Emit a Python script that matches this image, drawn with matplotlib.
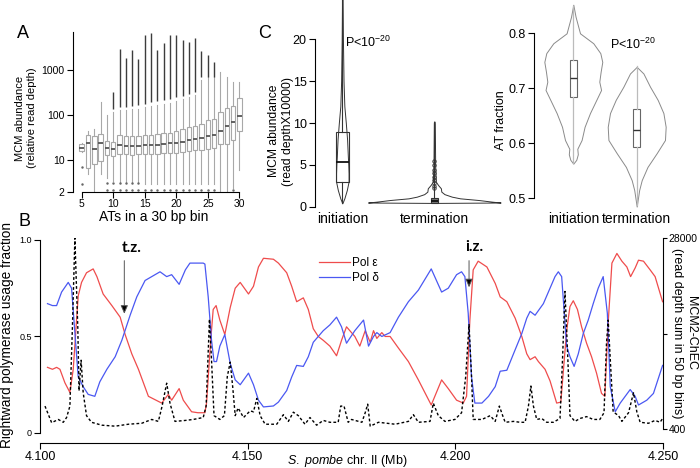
import matplotlib
matplotlib.use("Agg")
import matplotlib.pyplot as plt
from matplotlib.lines import Line2D

plt.rcParams['font.family'] = ['Liberation Sans', 'DejaVu Sans']
plt.rcParams['mathtext.fontset'] = 'custom'
plt.rcParams['mathtext.rm'] = 'Liberation Sans'
plt.rcParams['mathtext.it'] = 'Liberation Sans:italic'
plt.rcParams['axes.linewidth'] = 0.8
plt.rcParams['xtick.major.width'] = 0.8
plt.rcParams['ytick.major.width'] = 0.8

# ---------------- panel A: MCM abundance per AT count (box stats)
at_counts = list(range(5, 31))
box_q1  = [16.1, 6.8, 8.1, 9.5, 13, 12.5, 13.5, 13.5, 13, 13.5, 13.5, 13.5, 13.5,
           14.3, 14.7, 14.7, 15.3, 16, 17, 17, 17.5, 19, 22.7, 22.7, 28.4, 45]
box_med = [19, 24, 17.5, 24, 19, 17.5, 22, 21, 21, 21, 21.5, 22, 22,
           23, 23.5, 24.5, 26, 28, 30, 31.6, 35, 37, 45, 56, 72, 98]
box_q3  = [22.7, 36, 35, 38, 27, 26, 36, 35, 34, 35, 36, 37, 38,
           40, 41, 45, 49, 54, 58, 64, 78, 83, 116, 143, 158, 240]
whis_lo = [15, 5, 2.0, 5, 4, 3.5, 3.2, 3.2, 3.2, 3.2, 3, 3, 3,
           3, 3, 3, 3, 3, 3, 3, 3, 3, 2, 2, 2.4, 6]
whis_hi = [24, 45, 49, 200, 100, 115, 130, 130, 135, 140, 150, 160, 170,
           180, 190, 210, 230, 250, 280, 600, 700, 700, 915, 710, 550, 550]
# dense columns of high outliers
dense_at = [10, 11, 12, 13, 14, 15, 16, 17, 18, 19, 20, 21, 22, 23, 24, 25, 26]
dense_lo = [140, 150, 150, 160, 170, 180, 200, 210, 220, 230, 250, 270, 290, 320, 700, 710, 720]
dense_hi = [330, 3000, 1900, 2800, 1800, 6000, 6600, 2800, 4000, 6100, 6100, 4700, 4300,
            5100, 2600, 2200, 1500]
low_out_at  = [5, 5, 9, 10, 11, 12, 13, 14, 9, 10, 11, 12, 13, 14, 15, 16, 17, 18, 19, 20,
               21, 22, 23, 24, 25, 26, 29]
low_out_val = [7.2, 3.0, 3.1, 3.1, 3.1, 3.1, 3.1, 3.1, 2.2, 2.2, 2.2, 2.2, 2.2, 2.2, 2.2,
               2.2, 2.2, 2.2, 2.2, 2.2, 2.2, 2.2, 2.2, 2.2, 2.2, 2.2, 2.2]

# ---------------- panel C: violin outlines (value, half width)
init_mcm_y = [0.4, 1, 2, 3, 4, 5, 6, 8, 10, 12, 15, 20, 25]
init_mcm_w = [0, .022, .049, .068, .068, .065, .06, .052, .038, .022, .013, .0065, .003]
term_mcm_y = [0.45, 0.5, 0.6, 0.8, 1.0, 1.2, 1.5, 1.8, 2.2, 2.6, 3.0, 5, 10, 10.2]
term_mcm_w = [0, .72, .63, .48, .28, .19, .11, .076, .071, .04, .016, .009, .005, 0]
term_mcm_out = [2.2, 2.5, 2.8, 3.2, 3.6, 4.0, 4.4, 5.0, 5.5]
mcm_box = {'initiation': (2.9, 5.4, 8.9, 0.4, 26), 'termination': (0.5, 0.7, 1.0, 0.45, 10.1)}

init_at_y = [0.563, 0.57, 0.58, 0.59, 0.606, 0.63, 0.655, 0.679, 0.697, 0.712, 0.730,
             0.748, 0.764, 0.782, 0.80, 0.83, 0.852]
init_at_w = [0, .047, .071, .063, .131, .178, .263, .363, .438, .41, .431, .457, .426,
             .315, .106, .036, 0]
term_at_y = [0.485, 0.515, 0.533, 0.557, 0.582, 0.606, 0.630, 0.655, 0.679, 0.703, 0.727, 0.739]
term_at_w = [0, .039, .079, .17, .315, .446, .457, .421, .331, .21, .106, 0]
at_box = {'initiation': (0.685, 0.719, 0.7515, 0.565, 0.85), 'termination': (0.593, 0.624, 0.662, 0.487, 0.74)}

# ---------------- panel B: polymerase usage and MCM2-ChEC along chr. II (Mb)
eps_pos = [4.1018, 4.1030, 4.1040, 4.1048, 4.1060, 4.1072, 4.1080, 4.1086, 4.1092, 4.1100,
           4.1112, 4.1128, 4.1137, 4.1152, 4.1173, 4.1193, 4.1205, 4.1221, 4.1237, 4.1261,
           4.1293, 4.1309, 4.1317, 4.1335, 4.1345, 4.1365, 4.1380, 4.1397, 4.1401, 4.1411,
           4.1417, 4.1424, 4.1433, 4.1445, 4.1458, 4.1470, 4.1482, 4.1502, 4.1514, 4.1526,
           4.1538, 4.1562, 4.1574, 4.1594, 4.1606, 4.1618, 4.1634, 4.1646, 4.1658, 4.1670,
           4.1682, 4.1698, 4.1714, 4.1726, 4.1738, 4.1758, 4.1770, 4.1783, 4.1795, 4.1803,
           4.1811, 4.1823, 4.1831, 4.1843, 4.1863, 4.1887, 4.1911, 4.1942, 4.1967, 4.1983,
           4.2003, 4.2019, 4.2027, 4.2035, 4.2043, 4.2055, 4.2076, 4.2096, 4.2108, 4.2124,
           4.2144, 4.2160, 4.2172, 4.2180, 4.2192, 4.2200, 4.2216, 4.2228, 4.2244, 4.2254,
           4.2268, 4.2276, 4.2284, 4.2294, 4.2304, 4.2316, 4.2328, 4.2340, 4.2352, 4.2360,
           4.2368, 4.2377, 4.2389, 4.2401, 4.2413, 4.2422, 4.2433, 4.2441, 4.2453, 4.2469,
           4.2481, 4.2499]
eps_frac = [0.34, 0.33, 0.34, 0.33, 0.26, 0.21, 0.33, 0.52, 0.71, 0.78,
            0.83, 0.85, 0.81, 0.72, 0.66, 0.60, 0.51, 0.41, 0.33, 0.19,
            0.155, 0.20, 0.17, 0.23, 0.17, 0.11, 0.105, 0.105, 0.155, 0.48,
            0.64, 0.66, 0.585, 0.51, 0.65, 0.75, 0.78, 0.72, 0.76, 0.86,
            0.905, 0.90, 0.88, 0.83, 0.76, 0.68, 0.70, 0.64, 0.54, 0.50,
            0.48, 0.45, 0.40, 0.48, 0.55, 0.50, 0.45, 0.53, 0.47, 0.53,
            0.49, 0.52, 0.50, 0.50, 0.44, 0.37, 0.275, 0.145, 0.275, 0.23,
            0.17, 0.155, 0.19, 0.585, 0.845, 0.89, 0.86, 0.775, 0.705, 0.68,
            0.595, 0.50, 0.41, 0.38, 0.395, 0.37, 0.33, 0.27, 0.155, 0.16,
            0.53, 0.655, 0.685, 0.64, 0.55, 0.465, 0.395, 0.31, 0.205, 0.19,
            0.57, 0.88, 0.93, 0.89, 0.86, 0.81, 0.855, 0.895, 0.89, 0.845,
            0.81, 0.68]
delta_pos = [4.1018, 4.1030, 4.1040, 4.1052, 4.1068, 4.1076, 4.1084, 4.1092, 4.1104, 4.1116,
             4.1132, 4.1144, 4.1161, 4.1181, 4.1197, 4.1217, 4.1233, 4.1253, 4.1269, 4.1289,
             4.1305, 4.1317, 4.1335, 4.1350, 4.1361, 4.1380, 4.1393, 4.1397, 4.1405, 4.1413,
             4.1419, 4.1425, 4.1433, 4.1445, 4.1458, 4.1470, 4.1482, 4.1502, 4.1514, 4.1526,
             4.1538, 4.1562, 4.1574, 4.1594, 4.1606, 4.1618, 4.1634, 4.1646, 4.1658, 4.1670,
             4.1682, 4.1698, 4.1714, 4.1726, 4.1738, 4.1758, 4.1779, 4.1791, 4.1803, 4.1811,
             4.1823, 4.1843, 4.1863, 4.1887, 4.1911, 4.1942, 4.1967, 4.1983, 4.2003, 4.2015,
             4.2023, 4.2031, 4.2039, 4.2047, 4.2064, 4.2080, 4.2096, 4.2108, 4.2124, 4.2140,
             4.2160, 4.2172, 4.2180, 4.2192, 4.2212, 4.2228, 4.2240, 4.2248, 4.2256, 4.2268,
             4.2276, 4.2286, 4.2296, 4.2308, 4.2320, 4.2332, 4.2344, 4.2356, 4.2366, 4.2373,
             4.2385, 4.2397, 4.2409, 4.2421, 4.2433, 4.2441, 4.2461, 4.2477, 4.2499]
delta_frac = [0.67, 0.66, 0.66, 0.73, 0.78, 0.75, 0.52, 0.29, 0.24, 0.20,
              0.19, 0.265, 0.33, 0.395, 0.48, 0.61, 0.705, 0.79, 0.81, 0.835,
              0.81, 0.82, 0.77, 0.845, 0.88, 0.88, 0.88, 0.875, 0.705, 0.48,
              0.37, 0.37, 0.45, 0.51, 0.36, 0.275, 0.25, 0.31, 0.25, 0.17,
              0.135, 0.14, 0.16, 0.22, 0.29, 0.35, 0.345, 0.395, 0.47, 0.50,
              0.53, 0.56, 0.60, 0.55, 0.465, 0.53, 0.585, 0.45, 0.50, 0.52,
              0.50, 0.52, 0.60, 0.68, 0.74, 0.85, 0.73, 0.75, 0.82, 0.835,
              0.81, 0.62, 0.29, 0.155, 0.155, 0.19, 0.24, 0.32, 0.325, 0.41,
              0.515, 0.595, 0.63, 0.61, 0.67, 0.75, 0.81, 0.835, 0.81, 0.45,
              0.395, 0.345, 0.41, 0.515, 0.585, 0.67, 0.75, 0.81, 0.62, 0.24,
              0.11, 0.155, 0.19, 0.225, 0.19, 0.145, 0.17, 0.205, 0.35]
mcm_pos = [4.1012, 4.1028, 4.1044, 4.1056, 4.1064, 4.1072, 4.1078, 4.1084, 4.1091, 4.1094,
           4.1099, 4.1104, 4.1112, 4.1124, 4.1149, 4.1181, 4.1213, 4.1245, 4.1269, 4.1285,
           4.1294, 4.1305, 4.1313, 4.1325, 4.1350, 4.1369, 4.1393, 4.1400, 4.1408, 4.1413,
           4.1419, 4.1433, 4.1444, 4.1451, 4.1458, 4.1464, 4.1470, 4.1477, 4.1490, 4.1506,
           4.1514, 4.1522, 4.1530, 4.1542, 4.1570, 4.1586, 4.1598, 4.1610, 4.1622, 4.1638,
           4.1650, 4.1666, 4.1682, 4.1698, 4.1718, 4.1724, 4.1732, 4.1742, 4.1750, 4.1775,
           4.1783, 4.1789, 4.1795, 4.1815, 4.1855, 4.1887, 4.1899, 4.1911, 4.1939, 4.1947,
           4.1959, 4.1975, 4.1999, 4.2015, 4.2025, 4.2033, 4.2039, 4.2043, 4.2064, 4.2084,
           4.2096, 4.2106, 4.2114, 4.2120, 4.2140, 4.2156, 4.2168, 4.2176, 4.2182, 4.2188,
           4.2196, 4.2208, 4.2220, 4.2236, 4.2252, 4.2258, 4.2264, 4.2271, 4.2276, 4.2288,
           4.2300, 4.2316, 4.2332, 4.2348, 4.2358, 4.2364, 4.2368, 4.2374, 4.2380, 4.2393,
           4.2401, 4.2417, 4.2429, 4.2437, 4.2445, 4.2465, 4.2481, 4.2493, 4.2499]
mcm_depth = [3710, 1310, 1780, 1370, 2060, 3710, 15030, 28000, 15030, 5920,
             10340, 5640, 2330, 1370, 950, 810, 1090, 1230, 1780, 1500,
             3710, 7020, 4130, 1500, 1640, 1780, 2060, 3710, 16270, 10340,
             2330, 1780, 2330, 7990, 10060, 6470, 2330, 3440, 2060, 3020,
             2880, 4820, 2330, 1090, 1090, 2470, 1500, 2830, 2330, 1090,
             2060, 950, 1640, 1370, 1370, 3710, 3710, 1370, 1780, 1370,
             2750, 3990, 810, 1370, 1090, 1500, 2470, 1370, 1500, 4130,
             2330, 1500, 1780, 2750, 7990, 15500, 7990, 1780, 1780, 2330,
             1500, 3710, 2330, 1370, 1500, 1370, 1370, 3710, 6610, 3710,
             1780, 1920, 1370, 1370, 1920, 10340, 20270, 10340, 2330, 1500,
             1920, 2190, 1780, 1780, 2750, 12820, 16130, 9370, 2880, 2330,
             1500, 2750, 5640, 2880, 1370, 1230, 1640, 1370, 1920]

RED = '#ef4c4c'
BLUE = '#4a58f2'
W, H = 700, 468
fig = plt.figure(figsize=(7, 4.68), dpi=100)


def rect(l, t, r, b):
    return [l / W, 1 - b / H, (r - l) / W, (b - t) / H]


def ftext(px, py, s, **kw):
    fig.text(px / W, 1 - py / H, s, **kw)


def r_style(ax):
    for s in ['top', 'right']:
        ax.spines[s].set_visible(False)
    ax.tick_params(direction='out', length=4, pad=2)


# ---------------- A
axA = fig.add_axes(rect(73, 32, 245, 191.7))
stats = [dict(med=m, q1=a, q3=b, whislo=lo, whishi=hi, fliers=[])
         for m, a, b, lo, hi in zip(box_med, box_q1, box_q3, whis_lo, whis_hi)]
axA.bxp(stats, positions=at_counts, widths=0.7, showcaps=False, patch_artist=True,
        boxprops=dict(facecolor='white', edgecolor='#a8a8a8', lw=0.8),
        whiskerprops=dict(color='#a8a8a8', lw=0.8),
        medianprops=dict(color='#555555', lw=1.3))
axA.vlines(dense_at, dense_lo, dense_hi, color='#3c3c3c', lw=1.0)
axA.plot(low_out_at, low_out_val, ls='none', marker='.', ms=1.5, color='#666666')
axA.set_yscale('log')
axA.set_ylim(2, 7000)
axA.set_xlim(3.62, 30.9)
r_style(axA)
axA.spines['bottom'].set_bounds(5, 30)
axA.set_xticks([5, 10, 15, 20, 25, 30])
axA.set_xticklabels(['5', '10', '15', '20', '25', '30'], fontsize=7.5)
axA.tick_params(axis='x', pad=1)
axA.set_yticks([2, 10, 100, 1000])
axA.set_yticklabels(['2', '10', '100', '1000'], fontsize=7.5)
axA.yaxis.set_minor_locator(matplotlib.ticker.NullLocator())
ftext(26, 118, 'MCM abundance\n(relative read depth)', rotation=90, ha='center', va='center',
      fontsize=8, multialignment='center')
ftext(153.5, 217, 'ATs in a 30 bp bin', ha='center', va='center', fontsize=10)

# ---------------- C left
axC1 = fig.add_axes(rect(315, 0, 505, 206.7))
axC1.fill_betweenx(init_mcm_y, [1 - w for w in init_mcm_w], [1 + w for w in init_mcm_w],
                   facecolor='white', edgecolor='#333333', lw=0.7)
axC1.fill_betweenx(term_mcm_y, [2 - w for w in term_mcm_w], [2 + w for w in term_mcm_w],
                   facecolor='white', edgecolor='#333333', lw=0.7)
for i, key in enumerate(['initiation', 'termination']):
    q1, med, q3, lo, hi = mcm_box[key]
    axC1.bxp([dict(med=med, q1=q1, q3=q3, whislo=lo, whishi=hi, fliers=[])],
             positions=[i + 1], widths=[0.14, 0.08][i], showcaps=False, patch_artist=True,
             boxprops=dict(facecolor=['none', '#777777'][i], edgecolor='#333333', lw=0.8),
             whiskerprops=dict(color='#333333', lw=0.8),
             medianprops=dict(color='#111111', lw=1.3), manage_ticks=False)
axC1.plot([2] * len(term_mcm_out), term_mcm_out, ls='none', marker='o', ms=2.5,
          mfc='none', mec='#333333', mew=0.6)
axC1.set_xlim(0.703, 2.768)
axC1.set_ylim(0, 24.7)
r_style(axC1)
axC1.spines['bottom'].set_visible(False)
axC1.spines['left'].set_bounds(0, 20)
axC1.set_yticks([0, 5, 10, 15, 20])
axC1.set_yticklabels(['0', '5', '10', '15', '20'], fontsize=9)
axC1.set_xticks([1, 2])
axC1.set_xticklabels(['initiation', 'termination'], fontsize=10)
axC1.tick_params(axis='x', length=0, pad=4)
axC1.text(1.03, 19.6, 'P<10$^{-20}$', fontsize=9, ha='left', va='center')
ftext(281, 131, 'MCM abundance\n(read depthX10000)', rotation=90, ha='center', va='center',
      fontsize=8.7, multialignment='center')

# ---------------- C right
axC2 = fig.add_axes(rect(534, 0, 680, 209.3))
axC2.fill_betweenx(init_at_y, [1 - w for w in init_at_w], [1 + w for w in init_at_w],
                   facecolor='white', edgecolor='#8a8a8a', lw=0.7)
axC2.fill_betweenx(term_at_y, [2 - w for w in term_at_w], [2 + w for w in term_at_w],
                   facecolor='white', edgecolor='#8a8a8a', lw=0.7)
for i, key in enumerate(['initiation', 'termination']):
    q1, med, q3, lo, hi = at_box[key]
    axC2.bxp([dict(med=med, q1=q1, q3=q3, whislo=lo, whishi=hi, fliers=[])],
             positions=[i + 1], widths=0.11, showcaps=False, patch_artist=True,
             boxprops=dict(facecolor='white', edgecolor='#666666', lw=0.8),
             whiskerprops=dict(color='#bbbbbb', lw=0.9),
             medianprops=dict(color='#333333', lw=1.0), manage_ticks=False)
axC2.set_xlim(0.38, 2.683)
axC2.set_ylim(0.48, 0.8606)
r_style(axC2)
axC2.spines['bottom'].set_visible(False)
axC2.spines['left'].set_bounds(0.5, 0.8)
axC2.set_yticks([0.5, 0.6, 0.7, 0.8])
axC2.set_yticklabels(['0.5', '0.6', '0.7', '0.8'], fontsize=9)
axC2.set_xticks([1, 2])
axC2.set_xticklabels(['initiation', 'termination'], fontsize=10)
axC2.tick_params(axis='x', length=0, pad=2)
axC2.text(1.58, 0.7805, 'P<10$^{-20}$', fontsize=9, ha='left', va='center')
ftext(501, 120, 'AT fraction', rotation=90, ha='center', va='center', fontsize=9)

# ---------------- B
axB = fig.add_axes(rect(40, 238, 663, 433))
axB.plot(eps_pos, eps_frac, color=RED, lw=0.9)
axB.plot(delta_pos, delta_frac, color=BLUE, lw=0.9)
axB.set_xlim(4.1, 4.25)
axB.set_ylim(0, 1.01)
r_style(axB)
axB.spines['left'].set_bounds(0, 1)
axB.spines['bottom'].set_position(('outward', 7))
axB.set_xticks([4.10, 4.15, 4.20, 4.25])
axB.set_xticklabels(['4.100', '4.150', '4.200', '4.250'], fontsize=9)
axB.set_yticks([0, 0.5, 1.0])
axB.set_yticklabels(['0', '0.5', '1.0'], fontsize=6.5)
axB.tick_params(axis='y', length=4.5, pad=1.5)
axB.legend(handles=[Line2D([], [], color=RED, lw=0.9), Line2D([], [], color=BLUE, lw=0.9)],
           labels=['Pol \u03b5', 'Pol \u03b4'], frameon=False, fontsize=8.5,
           loc='upper left', bbox_to_anchor=(0.448, 0.9), handlelength=2.6,
           handletextpad=0.2, labelspacing=0.25, borderpad=0, borderaxespad=0)
axB.annotate('', xy=(4.1203, 0.603), xytext=(4.1203, 0.907),
             arrowprops=dict(arrowstyle='-|>,head_length=0.5,head_width=0.22', lw=0.7,
                             ec='#555555', fc='black'))
axB.annotate('', xy=(4.2033, 0.74), xytext=(4.2033, 0.907),
             arrowprops=dict(arrowstyle='-|>,head_length=0.5,head_width=0.22', lw=0.7,
                             ec='#555555', fc='black'))
axB.text(4.1220, 0.96, 't.z.', family='Lato', weight='bold', fontsize=11,
         ha='center', va='center')
axB.text(4.2045, 0.965, 'i.z.', family='Lato', weight='bold', fontsize=11,
         ha='center', va='center')

axM = axB.twinx()
axM.plot(mcm_pos, mcm_depth, color='black', ls=(0, (2, 1.6)), lw=1.0)
axM.set_ylim(-178, 28000)
for s in ['top', 'left', 'bottom']:
    axM.spines[s].set_visible(False)
axM.spines['right'].set_bounds(400, 28000)
axM.set_yticks([400, 14200, 28000])
axM.set_yticklabels(['400', '', '28000'], fontsize=7.5)
axM.tick_params(axis='y', direction='out', length=3, pad=1)

ftext(7, 335, 'Rightward polymerase usage fraction', rotation=90, ha='center', va='center',
      fontsize=9.8)
ftext(684, 333, 'MCM2-ChEC\n(read depth sum in 50 bp bins)', rotation=270, ha='center',
      va='center', fontsize=9, multialignment='center')
ftext(347.5, 461, '$\\it{S.\\ pombe}$ chr. II (Mb)', ha='center', va='center', fontsize=9)

# panel letters
ftext(23, 34, 'A', fontsize=13, ha='center', va='center')
ftext(24, 222, 'B', fontsize=13, ha='center', va='center')
ftext(265, 34, 'C', fontsize=13, ha='center', va='center')

fig.savefig('out.png', dpi=100)
